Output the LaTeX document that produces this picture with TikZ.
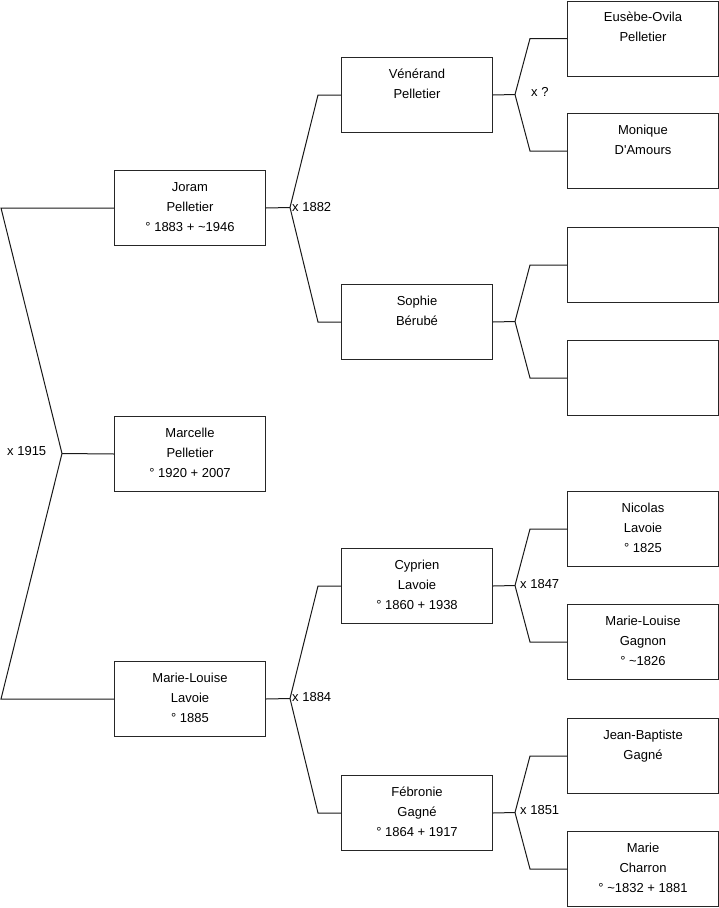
\documentclass[tikz,border=0pt]{standalone}
\usepackage{fontspec}
\setmainfont{Liberation Sans}
\begin{document}
\begin{tikzpicture}[x=1pt,y=-1pt,
  person/.style={draw=black!85,line width=1pt,minimum width=151pt,minimum height=75pt,inner sep=0pt,anchor=north west},
  ptext/.style={anchor=north,align=center,inner sep=0pt,font=\fontsize{13}{20}\selectfont},
  wire/.style={draw=black!90,line width=1pt},
  mar/.style={anchor=west,inner sep=0pt,font=\fontsize{13}{16}\selectfont}]
\useasboundingbox (0,0) rectangle (719,908);
\newcommand{\pers}[4]{%
  \node[person] (#1) at (#2,#3) {};
  \node[ptext] (#1T) at ([yshift=-9pt]#1.north) {\rule{0pt}{12pt}#4};}
\pers{joram}{114}{170}{Joram\\Pelletier\\° 1883 + \textasciitilde1946}
\pers{marcelle}{114}{416}{Marcelle\\Pelletier\\° 1920 + 2007}
\pers{ml}{114}{661}{Marie-Louise\\Lavoie\\° 1885}
\pers{venerand}{341}{57}{Vénérand\\Pelletier}
\pers{sophie}{341}{284}{Sophie\\Bérubé}
\pers{cyprien}{341}{548}{Cyprien\\Lavoie\\° 1860 + 1938}
\pers{febronie}{341}{775}{Fébronie\\Gagné\\° 1864 + 1917}
\pers{eusebe}{567}{0.5}{Eusèbe-Ovila\\Pelletier}
\pers{monique}{567}{113}{Monique\\D\textquotesingle Amours}
\pers{ea}{567}{227}{}
\pers{eb}{567}{340}{}
\pers{nicolas}{567}{491}{Nicolas\\Lavoie\\° 1825}
\pers{mlg}{567}{604}{Marie-Louise\\Gagnon\\° \textasciitilde1826}
\pers{jb}{567}{718}{Jean-Baptiste\\Gagné}
\pers{charron}{567}{831}{Marie\\Charron\\° \textasciitilde1832 + 1881}
% forks
\coordinate (f0) at (62,453.5);
\coordinate (f1) at (290,207.5);
\coordinate (f2) at (290,698.5);
\coordinate (f3) at (515,94.5);
\coordinate (f4) at (515,321.5);
\coordinate (f5) at (515,585.5);
\coordinate (f6) at (515,812.5);
\draw[wire] (marcelle.west) -- (f0);
\draw[wire] (f0) -- (1,0 |- joram.west) -- (joram.west);
\draw[wire] (f0) -- (1,0 |- ml.west) -- (ml.west);
\draw[wire] (joram.east) -- (f1);
\draw[wire] (f1) -- (318,0 |- venerand.west) -- (venerand.west);
\draw[wire] (f1) -- (318,0 |- sophie.west) -- (sophie.west);
\draw[wire] (ml.east) -- (f2);
\draw[wire] (f2) -- (318,0 |- cyprien.west) -- (cyprien.west);
\draw[wire] (f2) -- (318,0 |- febronie.west) -- (febronie.west);
\draw[wire] (venerand.east) -- (f3);
\draw[wire] (f3) -- (530,0 |- eusebe.west) -- (eusebe.west);
\draw[wire] (f3) -- (530,0 |- monique.west) -- (monique.west);
\draw[wire] (sophie.east) -- (f4);
\draw[wire] (f4) -- (530,0 |- ea.west) -- (ea.west);
\draw[wire] (f4) -- (530,0 |- eb.west) -- (eb.west);
\draw[wire] (cyprien.east) -- (f5);
\draw[wire] (f5) -- (530,0 |- nicolas.west) -- (nicolas.west);
\draw[wire] (f5) -- (530,0 |- mlg.west) -- (mlg.west);
\draw[wire] (febronie.east) -- (f6);
\draw[wire] (f6) -- (530,0 |- jb.west) -- (jb.west);
\draw[wire] (f6) -- (530,0 |- charron.west) -- (charron.west);
% marriage labels
\node[mar] (m0) at (7,451) {x 1915};
\node[mar] (m1) at (292,207) {x 1882};
\node[mar] (m2) at (292,697) {x 1884};
\node[mar] (m3) at (531,92) {x ?};
\node[mar] (m4) at (520,584) {x 1847};
\node[mar] (m5) at (520,810) {x 1851};
\end{tikzpicture}
\end{document}
